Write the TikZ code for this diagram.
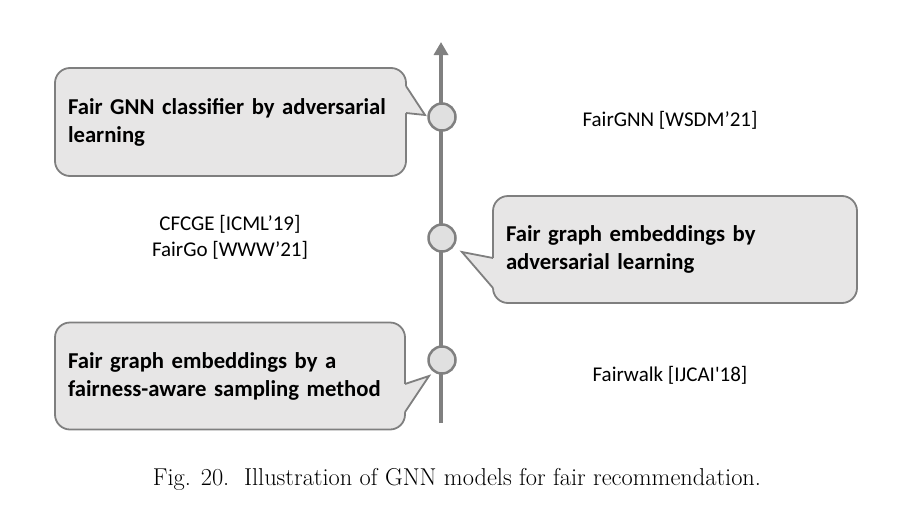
\documentclass[tikz,border=0pt]{standalone}
\usepackage{fontspec}
\setmainfont{Latin Modern Roman}
\newfontfamily\calfont{Carlito}
\usetikzlibrary{arrows.meta}
\definecolor{boxfill}{HTML}{E7E6E6}
\definecolor{boxline}{HTML}{7F7F7F}
\definecolor{axisgray}{HTML}{808080}
\definecolor{dotfill}{HTML}{E0E0E0}
\begin{document}
\begin{tikzpicture}[x=1pt,y=-1pt,
  callbox/.style={draw=boxline, fill=boxfill, line width=1.8pt, rounded corners=15pt,
    inner xsep=13pt, inner ysep=0pt, align=left, font=\calfont\bfseries\fontsize{22.7}{28}\selectfont},
  ptrfill/.style={fill=boxfill},
  ptrline/.style={draw=boxline, line width=1.8pt, line join=miter},
  dot/.style={circle, draw=axisgray, fill=dotfill, line width=2.5pt, minimum size=27pt, inner sep=0pt},
  lbl/.style={font=\calfont\fontsize{21}{26}\selectfont, align=center},
  axisline/.style={draw=axisgray, line width=4pt, -{Triangle[width=14pt,length=13pt]}}
]
\useasboundingbox (0,0) rectangle (904,514);
% axis
\coordinate (axb) at (441,423);
\coordinate (axt) at (441,42);
\draw[axisline] (axb) -- (axt);
% dots
\node[dot] (d1) at (442,117) {};
\node[dot] (d2) at (442,238) {};
\node[dot] (d3) at (442,360) {};
% callout 1
\node[callbox, minimum width=351pt, minimum height=108pt, text width=325pt] (c1) at (230.5,122)
  {Fair GNN classifier by adversarial\\learning};
\coordinate (p1a) at (406,86);
\coordinate (p1t) at (425,115);
\coordinate (p1b) at (406,113);
\fill[ptrfill] ([xshift=-3pt]p1a) -- (p1a) -- (p1t) -- (p1b) -- ([xshift=-3pt]p1b) -- cycle;
\draw[ptrline] (p1a) -- (p1t) -- (p1b);
% callout 2
\node[callbox, minimum width=364pt, minimum height=107pt, text width=338pt] (c2) at (675,249.5)
  {Fair graph embeddings by\\adversarial learning};
\coordinate (p2a) at (493,258);
\coordinate (p2t) at (462,252);
\coordinate (p2b) at (493,288);
\fill[ptrfill] ([xshift=3pt]p2a) -- (p2a) -- (p2t) -- (p2b) -- ([xshift=3pt]p2b) -- cycle;
\draw[ptrline] (p2a) -- (p2t) -- (p2b);
% callout 3
\node[callbox, minimum width=350pt, minimum height=107pt, text width=324pt] (c3) at (230,376)
  {Fair graph embeddings by a\\fairness-aware sampling method};
\coordinate (p3a) at (405,384);
\coordinate (p3t) at (429,376);
\coordinate (p3b) at (405,412);
\fill[ptrfill] ([xshift=-3pt]p3a) -- (p3a) -- (p3t) -- (p3b) -- ([xshift=-3pt]p3b) -- cycle;
\draw[ptrline] (p3a) -- (p3t) -- (p3b);
% labels
\node[lbl] (l1) at (670,120) {FairGNN [WSDM’21]};
\node[lbl] (l2) at (230,237) {CFCGE [ICML’19]\\FairGo [WWW’21]};
\node[lbl] (l3) at (670,375) {Fairwalk [IJCAI'18]};
% caption
\node[anchor=base, font=\fontsize{24.4}{28}\selectfont] (cap) at (457,485.5)
  {Fig. 20.\ \ Illustration of GNN models for fair recommendation.};
\end{tikzpicture}
\end{document}
